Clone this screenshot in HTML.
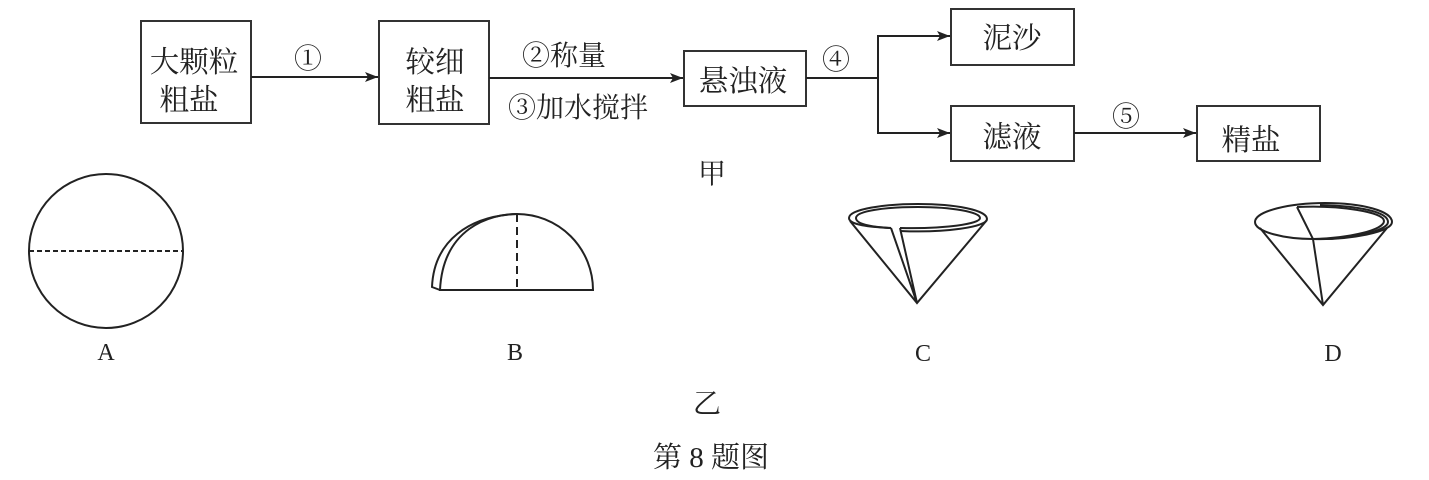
<!DOCTYPE html>
<html lang="zh">
<head>
<meta charset="utf-8">
<style>
html,body{margin:0;padding:0;background:#fff}
svg{display:block}
text{font-family:"Liberation Serif","Noto Serif CJK SC",serif;fill:#222}
.b{fill:none;stroke:#333;stroke-width:2}
.l{fill:none;stroke:#222;stroke-width:2}
</style>
</head>
<body>
<svg width="1429" height="480" viewBox="0 0 1429 480" xmlns="http://www.w3.org/2000/svg">
<defs>
<marker id="a" markerWidth="14" markerHeight="12" refX="13" refY="6" orient="auto" markerUnits="userSpaceOnUse">
<path d="M0 1 L13 6 L0 11 L3 6 Z" fill="#222"/>
</marker>
</defs>

<rect class="b" x="141" y="21" width="110" height="102"/>
<rect class="b" x="379" y="21" width="110" height="103"/>
<rect class="b" x="684" y="51" width="122" height="55"/>
<rect class="b" x="951" y="9" width="123" height="56"/>
<rect class="b" x="951" y="106" width="123" height="55"/>
<rect class="b" x="1197" y="106" width="123" height="55"/>

<g font-size="29.5" text-anchor="middle">
<text x="194" y="72">大颗粒</text>
<text x="189" y="110">粗盐</text>
<text x="435" y="72">较细</text>
<text x="435" y="110">粗盐</text>
<text x="743" y="91">悬浊液</text>
<text x="1012" y="48">泥沙</text>
<text x="1012" y="147">滤液</text>
<text x="1251" y="150">精盐</text>
</g>

<g font-size="28" text-anchor="middle">
<text x="308" y="68">①</text>
<text x="564" y="65">②称量</text>
<text x="578" y="117">③加水搅拌</text>
<text x="836" y="69">④</text>
<text x="1126" y="126">⑤</text>
</g>

<path class="l" d="M251 77H378" marker-end="url(#a)"/>
<path class="l" d="M489 78H683" marker-end="url(#a)"/>
<path class="l" d="M806 78H878M878 36V133"/>
<path class="l" d="M877 36H950" marker-end="url(#a)"/>
<path class="l" d="M877 133H950" marker-end="url(#a)"/>
<path class="l" d="M1074 133H1196" marker-end="url(#a)"/>

<text x="712" y="183" font-size="28" text-anchor="middle">甲</text>

<circle class="l" cx="106" cy="251" r="77"/>
<path class="l" d="M29 251H183" stroke-dasharray="5 3"/>
<text x="106" y="360" font-size="24" text-anchor="middle">A</text>

<path class="l" d="M440 290H593A76 76 0 0 0 517 214C490 214 443 228 440 290Z"/>
<path class="l" d="M440 290L432 287C434 240 470 216 517 214"/>
<path class="l" d="M517 214V290" stroke-dasharray="8 5"/>
<text x="515" y="360" font-size="24" text-anchor="middle">B</text>

<path class="l" d="M891 228C870 227 849 225 849 218C849 209 885 204 918 204C955 204 987 210 987 219C987 227 945 233 900 231"/>
<path class="l" d="M891 228C870 227 856 224 856 218C856 211 885 207 918 207C952 207 980 212 980 218C980 224 945 229 900 228"/>
<path class="l" d="M850 221L917 303L987 220M891 228L917 303M900 228L917 303"/>
<text x="923" y="361" font-size="24" text-anchor="middle">C</text>

<path class="l" d="M1313 239C1285 239 1255 232 1255 222C1255 211 1290 203 1325 203C1362 203 1392 211 1392 222C1392 232 1350 240 1313 239Z"/>
<path class="l" d="M1297 207C1340 205 1384 212 1384 221C1384 230 1350 238 1313 239M1297 207L1313 239L1323 305M1260 228L1323 305L1387 228"/>
<path class="l" d="M1320 205C1360 206 1388 212 1388 222C1388 231 1350 239 1320 239"/>
<text x="1333" y="361" font-size="24" text-anchor="middle">D</text>

<text x="707" y="413" font-size="28" text-anchor="middle">乙</text>
<text x="711" y="467" font-size="29" text-anchor="middle">第 8 题图</text>
</svg>
</body>
</html>
